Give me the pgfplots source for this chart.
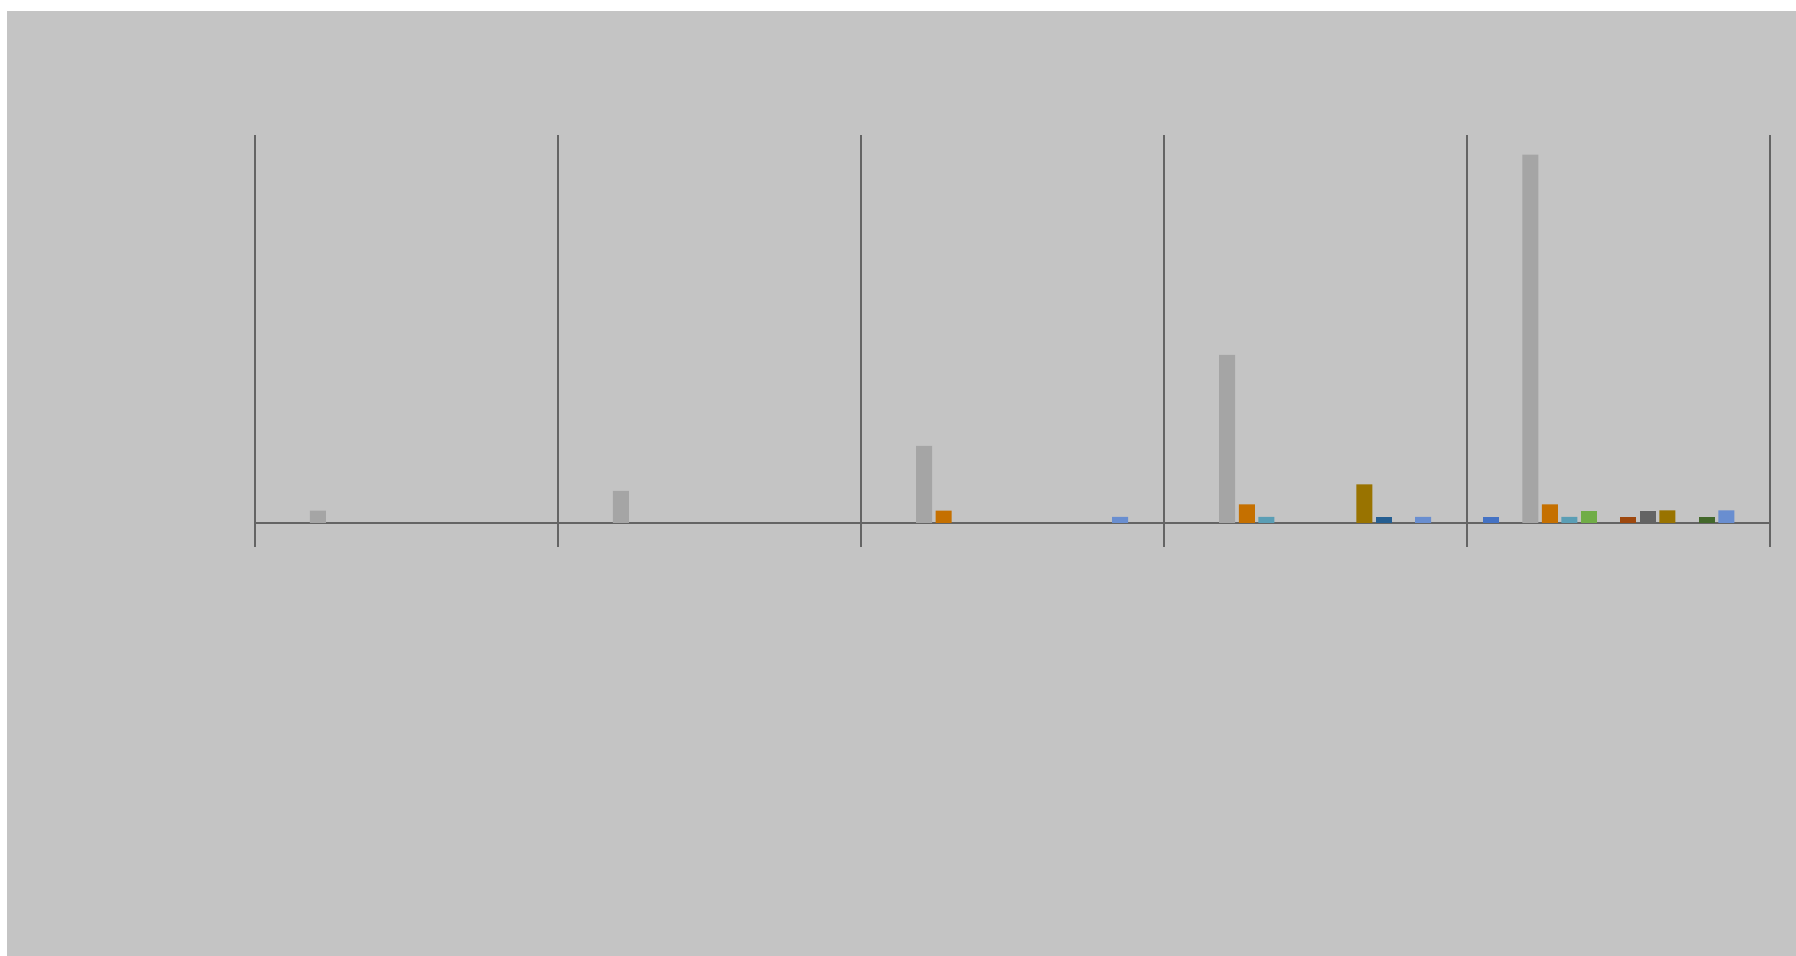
\documentclass[border=0pt]{standalone}
\usepackage{pgfplots}
\pgfplotsset{compat=1.18}
\definecolor{bg}{HTML}{C4C4C4}
\definecolor{ln}{HTML}{646464}
\definecolor{s0}{HTML}{4472C4}
\definecolor{s2}{HTML}{A5A5A5}
\definecolor{s3}{HTML}{C57000}
\definecolor{s4}{HTML}{5A9EB5}
\definecolor{s5}{HTML}{70AD47}
\definecolor{s7}{HTML}{9E480E}
\definecolor{s8}{HTML}{636363}
\definecolor{s9}{HTML}{997300}
\definecolor{s10}{HTML}{255E91}
\definecolor{s11}{HTML}{43682B}
\definecolor{s12}{HTML}{698ED0}
\begin{document}
\begin{tikzpicture}
\useasboundingbox (0,0) rectangle (17.96cm,9.56cm);
\fill[white] (0,0) rectangle (17.96cm,9.56cm);
\fill[bg] (0.07cm,0) rectangle (17.96cm,9.45cm);
\begin{axis}[
  at={(2.545cm,4.33cm)}, anchor=south west,
  scale only axis, width=15.155cm, height=3.88cm,
  xmin=0.5, xmax=5.5, ymin=0, ymax=388,
  axis x line*=bottom, axis y line=none,
  x axis line style={draw=ln, line width=0.02cm},
  xtick={0.5,1.5,2.5,3.5,4.5,5.5}, xticklabels={,,,,,},
  xmajorgrids, grid style={draw=ln, line width=0.02cm},
  xtick align=outside, major tick length=0.24cm,
  xtick style={draw=ln, line width=0.02cm},
  ytick=\empty,
  clip=false,
  every axis plot/.append style={/tikz/ybar, /pgf/bar width=0.16cm, draw=none},
]
\addplot[fill=s0,  /pgf/bar shift=-1.274cm] coordinates {(5,6)};
\addplot[fill=s2,  /pgf/bar shift=-0.882cm] coordinates {(1,12.3) (2,32) (3,77) (4,168) (5,368.3)};
\addplot[fill=s3,  /pgf/bar shift=-0.686cm] coordinates {(3,12.3) (4,18.7) (5,18.7)};
\addplot[fill=s4,  /pgf/bar shift=-0.490cm] coordinates {(4,6) (5,6)};
\addplot[fill=s5,  /pgf/bar shift=-0.294cm] coordinates {(5,12.3)};
\addplot[fill=s7,  /pgf/bar shift=0.098cm] coordinates {(5,6)};
\addplot[fill=s8,  /pgf/bar shift=0.294cm] coordinates {(5,12.3)};
\addplot[fill=s9,  /pgf/bar shift=0.490cm] coordinates {(4,38.7) (5,12.7)};
\addplot[fill=s10, /pgf/bar shift=0.686cm] coordinates {(4,6)};
\addplot[fill=s11, /pgf/bar shift=0.882cm] coordinates {(5,6)};
\addplot[fill=s12, /pgf/bar shift=1.078cm] coordinates {(3,6) (4,6) (5,12.7)};
\end{axis}
\end{tikzpicture}
\end{document}
